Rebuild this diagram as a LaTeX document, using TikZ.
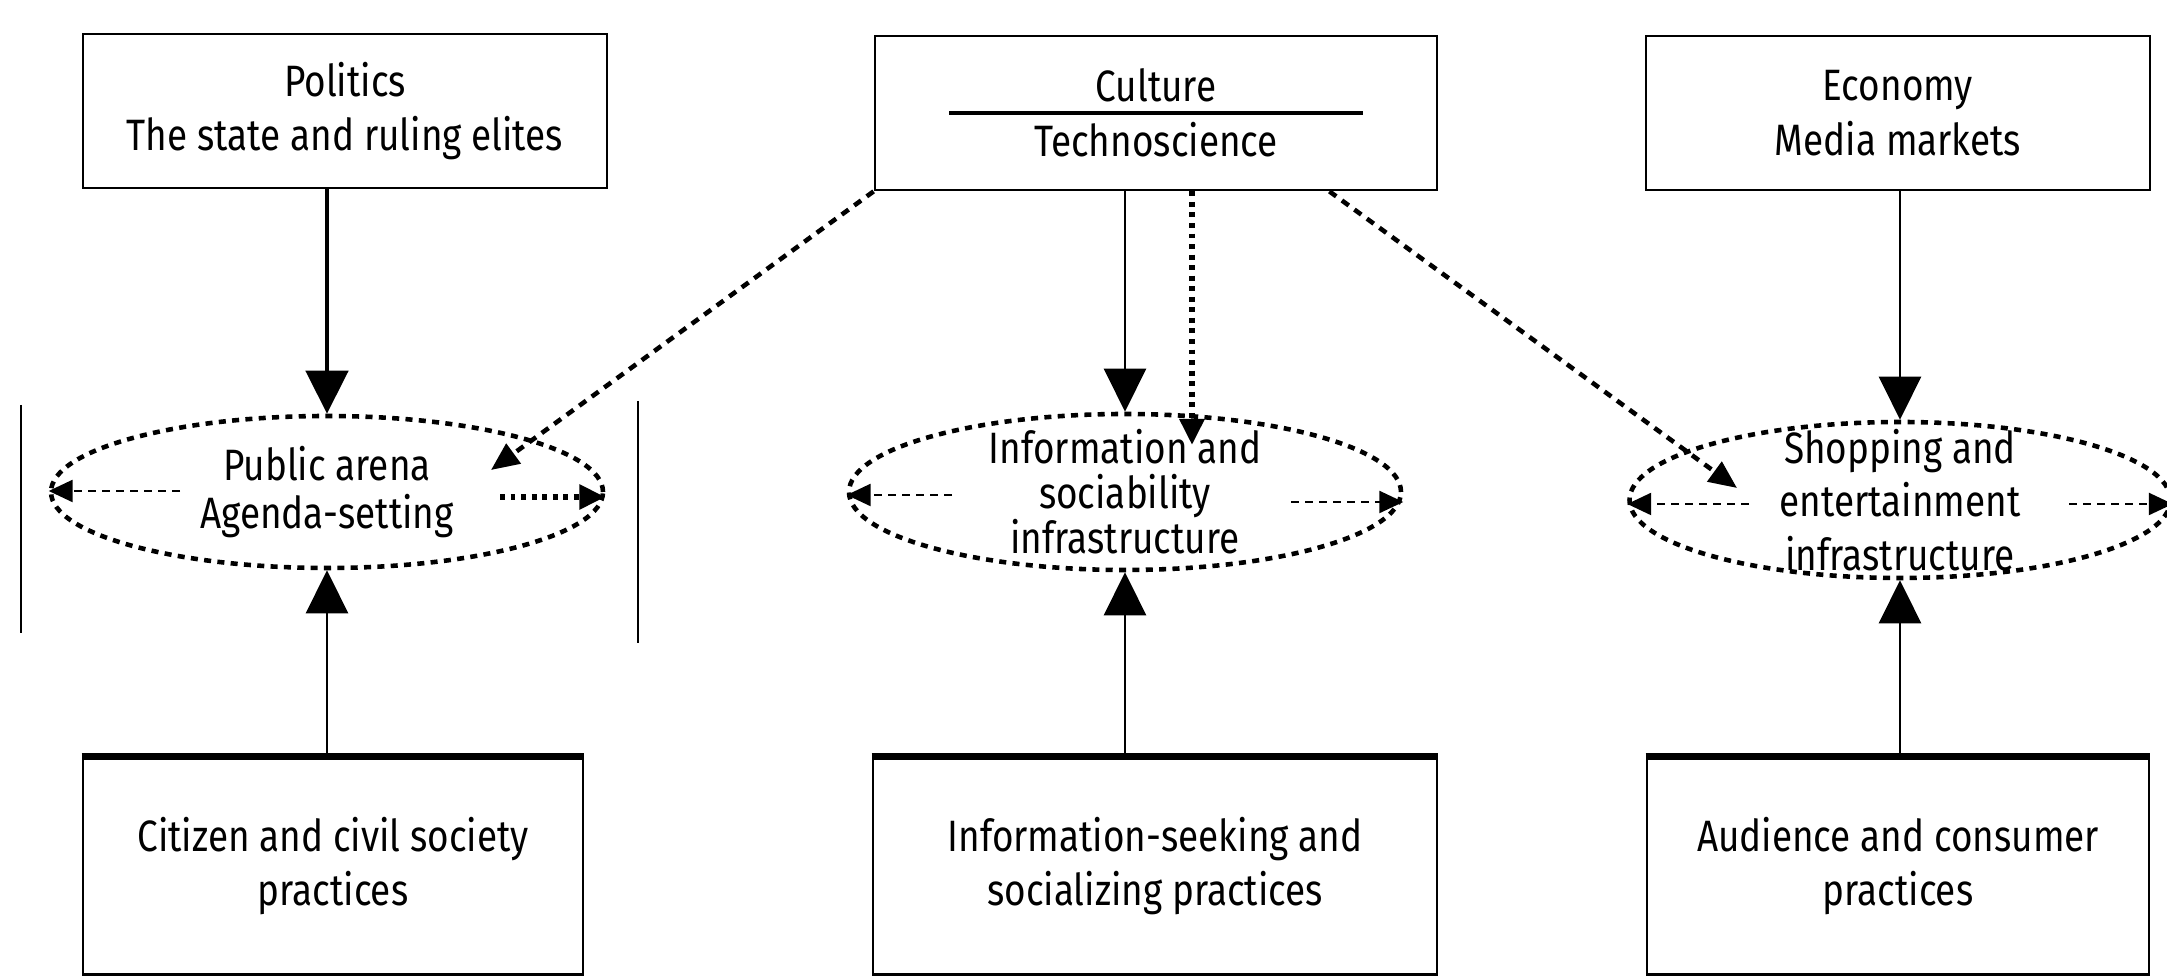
\documentclass[tikz,border=0pt]{standalone}
\usepackage{fontspec}
\setmainfont{Fira Sans}[FakeStretch=0.84]
\usetikzlibrary{positioning,arrows.meta,shapes.geometric,calc}
\tikzset{
  bigarrow/.style={-{Triangle[length=4.3mm, width=4.2mm]}, line width=0.7pt},
  heavyarrow/.style={-{Triangle[length=4.3mm, width=4.2mm]}, line width=1.4pt},
  linkarrow/.style={-{Triangle[length=2.8mm, width=2.4mm]}, line width=1.3pt, dash pattern=on 2.4pt off 2pt},
  dotarrow/.style={-{Triangle[length=2.6mm, width=2.4mm]}, line width=1.7pt, dash pattern=on 1.4pt off 1.6pt},
  innerarrow/.style={-{Triangle[length=2.4mm, width=2.2mm]}, line width=0.7pt, dash pattern=on 2.2pt off 1.8pt},
  infrasphere/.style={draw, ellipse, line width=1.3pt, dash pattern=on 2pt off 1.8pt, inner sep=0pt},
  spheretext/.style={align=center, inner sep=0pt, font=\fontsize{12.5}{#1}\selectfont},
  topbox/.style={draw, line width=0.8pt, minimum height=1.54cm, align=center, font=\fontsize{12.5}{15.6}\selectfont},
  practbox/.style={draw, line width=0.8pt, minimum height=2.17cm, align=center, font=\fontsize{12.5}{15.3}\selectfont},
  sideline/.style={line width=0.8pt}
}
\begin{document}
\begin{tikzpicture}
  \useasboundingbox (0,0) rectangle (21.67,-9.77);
  % top row
  \node[topbox, minimum width=5.24cm] (pol) at (3.45,-1.11) {Politics\\The state and ruling elites};
  \node[topbox, minimum width=5.62cm] (cul) at (11.56,-1.13) {Culture\\Technoscience};
  \node[topbox, minimum width=5.04cm] (eco) at (18.98,-1.13) {Economy\\Media markets};
  \draw[line width=1.3pt] ($(cul.center)+(-2.07,0)$) -- ($(cul.center)+(2.07,0)$);
  % infrastructures
  \node[infrasphere, minimum width=5.52cm, minimum height=1.52cm] (pa) at (3.27,-4.92) {};
  \node[spheretext=13.9pt] (pat) at (pa) {Public arena\\Agenda-setting};
  \node[infrasphere, minimum width=5.52cm, minimum height=1.56cm] (info) at (11.25,-4.92) {};
  \node[spheretext=12.8pt] (infot) at (info) {Information and\\sociability\\infrastructure};
  \node[infrasphere, minimum width=5.41cm, minimum height=1.56cm] (shop) at (19.00,-5.00) {};
  \node[spheretext=15.3pt] (shopt) at (shop) {Shopping and\\entertainment\\infrastructure};
  % practices
  \node[practbox, minimum width=5.00cm] (cit) at (3.33,-8.66) {Citizen and civil society\\practices};
  \node[practbox, minimum width=5.64cm] (seek) at (11.55,-8.66) {Information-seeking and\\socializing practices};
  \node[practbox, minimum width=5.02cm] (aud) at (18.98,-8.66) {Audience and consumer\\practices};
  \foreach \b in {cit,seek,aud}
    \draw[line width=2pt] (\b.north west) -- (\b.north east);
  \draw[sideline] (0.21,-4.05) -- (0.21,-6.33);
  \draw[sideline] (6.38,-4.01) -- (6.38,-6.43);
  % arrows
  \draw[heavyarrow] (pol.south -| pa.north) -- (pa.north);
  \draw[bigarrow] (cul.south -| info.north) -- (info.north);
  \draw[bigarrow] (eco.south -| shop.north) -- (shop.north);
  \draw[bigarrow] (cit.north -| pa.south) -- (pa.south);
  \draw[bigarrow] (seek.north -| info.south) -- (info.south);
  \draw[bigarrow] (aud.north -| shop.south) -- (shop.south);
  \coordinate (pahit) at (4.91,-4.70);
  \coordinate (infohit) at (11.92,-4.45);
  \coordinate (shophit) at (17.37,-4.88);
  \draw[linkarrow] (cul.south west) -- (pahit);
  \draw[linkarrow] ([xshift=-1.09cm]cul.south east) -- (shophit);
  \draw[dotarrow] (cul.south -| infohit) -- (infohit);
  % inside the spheres
  \coordinate (pal) at (1.80,-4.91);
  \coordinate (par) at (5.00,-4.97);
  \coordinate (infol) at (9.52,-4.95);
  \coordinate (infor) at (12.91,-5.02);
  \coordinate (shopl) at (17.49,-5.04);
  \coordinate (shopr) at (20.69,-5.04);
  \draw[innerarrow] (pal) -- (pal -| pa.west);
  \draw[dotarrow] (par) -- (par -| pa.east);
  \draw[innerarrow] (infol) -- (infol -| info.west);
  \draw[innerarrow] (infor) -- (infor -| info.east);
  \draw[innerarrow] (shopl) -- (shopl -| shop.west);
  \draw[innerarrow] (shopr) -- (shopr -| shop.east);
\end{tikzpicture}
\end{document}
